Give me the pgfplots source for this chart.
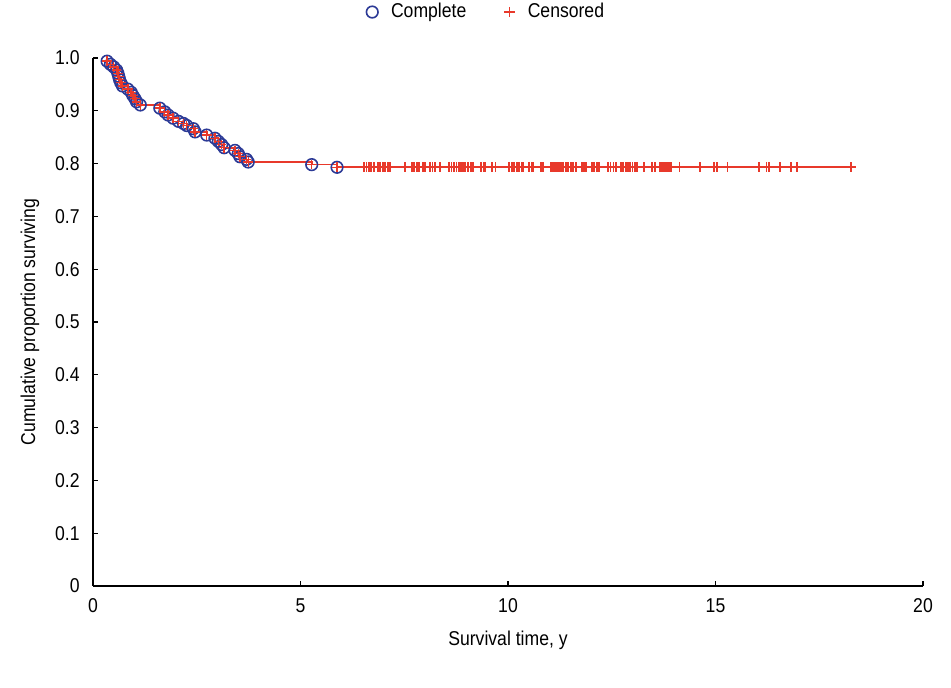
\documentclass[border=0pt]{standalone}
\usepackage{fontspec}
\setmainfont{Liberation Sans}[FakeStretch=0.88]
\usepackage{pgfplots}
\pgfplotsset{compat=1.18}
\definecolor{kmblue}{RGB}{44,58,150}
\definecolor{kmred}{RGB}{232,57,43}

\begin{document}
\begin{tikzpicture}
\useasboundingbox (0,0) rectangle (475.5pt,344pt);
\begin{axis}[
  at={(46.5pt,51pt)}, anchor=south west,
  scale only axis, width=415pt, height=264pt,
  xmin=0, xmax=20, ymin=0, ymax=1,
  axis lines*=left, axis line style={-, line width=0.75pt},
  tick align=inside, major tick length=2.5pt,
  tick style={black, line width=0.6pt},
  xtick={0,5,10,15,20},
  ytick={0,0.1,0.2,0.3,0.4,0.5,0.6,0.7,0.8,0.9,1},
  yticklabels={0,0.1,0.2,0.3,0.4,0.5,0.6,0.7,0.8,0.9,1.0},
  /pgf/number format/assume math mode=true,
  xticklabel style={inner sep=0pt, yshift=-6pt},
  yticklabel style={inner sep=0pt, xshift=-6.5pt},
  xlabel={Survival time, y},
  ylabel={Cumulative proportion surviving},
  xlabel style={at={(axis description cs:0.5,0)}, anchor=center, yshift=-27pt},
  ylabel style={at={(axis description cs:-0.0759,0.5)}, anchor=center},
  clip=false,
  legend columns=2,
  legend style={at={(0.475,1.087)}, anchor=center, draw=none, fill=none,
    /tikz/every odd column/.append style={column sep=4.5pt},
    /tikz/every even column/.append style={column sep=17pt}},
]
% survival curve (step function)
\addplot[const plot, kmred, line width=0.8pt, forget plot] coordinates {
(0.34,0.994) (0.42,0.988) (0.50,0.983) (0.57,0.977) (0.60,0.971) (0.62,0.965)
(0.64,0.959) (0.67,0.953) (0.71,0.947) (0.84,0.941) (0.92,0.935) (0.96,0.929)
(1.01,0.923) (1.05,0.917) (1.14,0.911) (1.61,0.905) (1.73,0.898) (1.81,0.892)
(1.93,0.886) (2.06,0.880) (2.18,0.876) (2.26,0.872) (2.42,0.866) (2.46,0.860)
(2.74,0.854) (2.94,0.848) (3.02,0.842) (3.10,0.836) (3.16,0.830) (3.42,0.825)
(3.50,0.819) (3.54,0.813) (3.70,0.808) (3.74,0.803) (5.27,0.798) (5.88,0.793)
(18.27,0.793)
};
% events
\addplot[only marks, mark=o, mark size=2.9pt, kmblue, mark options={line width=0.8pt}] coordinates {
(0.34,0.994) (0.42,0.988) (0.50,0.983) (0.57,0.977) (0.60,0.971) (0.62,0.965)
(0.64,0.959) (0.67,0.953) (0.71,0.947) (0.84,0.941) (0.92,0.935) (0.96,0.929)
(1.01,0.923) (1.05,0.917) (1.14,0.911) (1.61,0.905) (1.73,0.898) (1.81,0.892)
(1.93,0.886) (2.06,0.880) (2.18,0.876) (2.26,0.872) (2.42,0.866) (2.46,0.860)
(2.74,0.854) (2.94,0.848) (3.02,0.842) (3.10,0.836) (3.16,0.830) (3.42,0.825)
(3.50,0.819) (3.54,0.813) (3.70,0.808) (3.74,0.803) (5.27,0.798) (5.88,0.793)
};
\addlegendentry{Complete}
% censored observations
\addplot[only marks, mark=+, mark size=2.6pt, kmred, mark options={line width=0.9pt}] coordinates {
(6.53,0.793) (6.59,0.793) (6.65,0.793) (6.70,0.793) (6.77,0.793) (6.86,0.793)
(6.92,0.793) (6.98,0.793) (7.03,0.793) (7.11,0.793) (7.14,0.793) (7.17,0.793)
(7.52,0.793) (7.68,0.793) (7.74,0.793) (7.80,0.793) (7.86,0.793) (7.94,0.793)
(7.98,0.793) (8.01,0.793) (8.12,0.793) (8.18,0.793) (8.24,0.793) (8.36,0.793)
(8.58,0.793) (8.64,0.793) (8.70,0.793) (8.76,0.793) (8.82,0.793) (8.87,0.793)
(8.92,0.793) (8.96,0.793) (9.04,0.793) (9.10,0.793) (9.16,0.793) (9.35,0.793)
(9.41,0.793) (9.45,0.793) (9.62,0.793) (9.70,0.793) (10.03,0.793) (10.10,0.793)
(10.14,0.793) (10.21,0.793) (10.27,0.793) (10.33,0.793) (10.37,0.793) (10.51,0.793)
(10.57,0.793) (10.61,0.793) (10.79,0.793) (10.85,0.793) (11.04,0.793) (11.07,0.793)
(11.11,0.793) (11.15,0.793) (11.19,0.793) (11.23,0.793) (11.28,0.793) (11.33,0.793)
(11.40,0.793) (11.45,0.793) (11.51,0.793) (11.57,0.793) (11.64,0.793) (11.79,0.793)
(11.84,0.793) (11.88,0.793) (12.03,0.793) (12.08,0.793) (12.14,0.793) (12.20,0.793)
(12.40,0.793) (12.47,0.793) (12.54,0.793) (12.60,0.793) (12.72,0.793) (12.78,0.793)
(12.84,0.793) (12.90,0.793) (12.94,0.793) (13.00,0.793) (13.06,0.793) (13.11,0.793)
(13.28,0.793) (13.46,0.793) (13.54,0.793) (13.66,0.793) (13.70,0.793) (13.73,0.793)
(13.78,0.793) (13.84,0.793) (13.87,0.793) (13.90,0.793) (13.94,0.793) (14.13,0.793)
(14.63,0.793) (14.96,0.793) (15.03,0.793) (15.29,0.793) (16.05,0.793) (16.23,0.793)
(16.29,0.793) (16.55,0.793) (16.81,0.793) (16.96,0.793) (18.27,0.793)
};
\addlegendentry{Censored}
% every observation carries a cross, including the events
\addplot[only marks, mark=+, mark size=2.4pt, kmred, mark options={line width=0.7pt}, forget plot] coordinates {
(0.34,0.994) (0.42,0.988) (0.50,0.983) (0.57,0.977) (0.60,0.971) (0.62,0.965)
(0.64,0.959) (0.67,0.953) (0.71,0.947) (0.84,0.941) (0.92,0.935) (0.96,0.929)
(1.01,0.923) (1.05,0.917) (1.14,0.911) (1.61,0.905) (1.73,0.898) (1.81,0.892)
(1.93,0.886) (2.06,0.880) (2.18,0.876) (2.26,0.872) (2.42,0.866) (2.46,0.860)
(2.74,0.854) (2.94,0.848) (3.02,0.842) (3.10,0.836) (3.16,0.830) (3.42,0.825)
(3.50,0.819) (3.54,0.813) (3.70,0.808) (3.74,0.803) (5.27,0.798) (5.88,0.793)
};
\end{axis}
\end{tikzpicture}
\end{document}
